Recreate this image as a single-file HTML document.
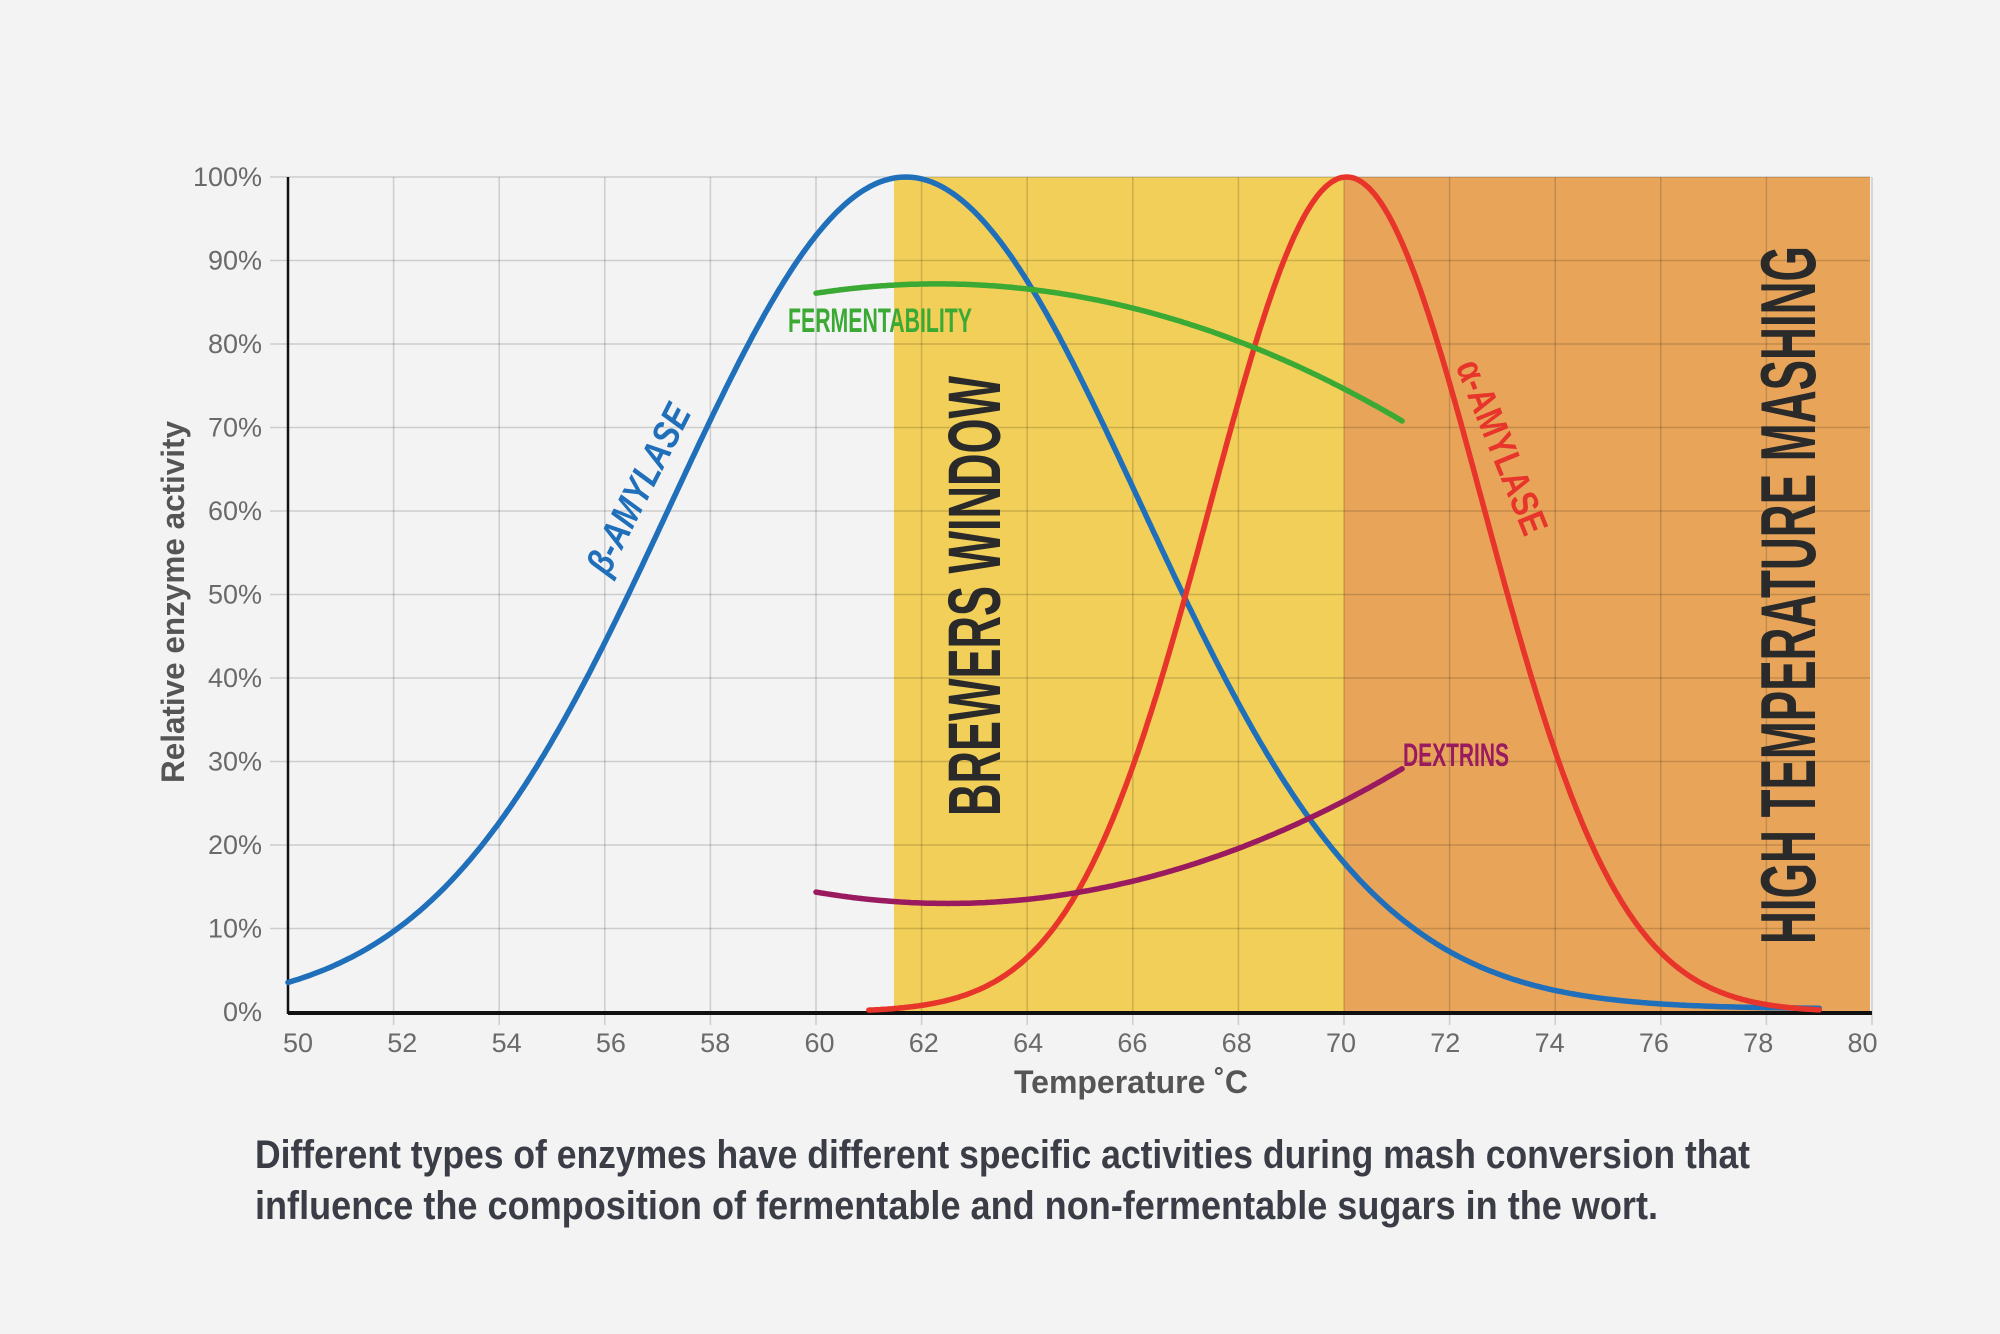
<!DOCTYPE html>
<html><head><meta charset="utf-8"><style>
html,body{margin:0;padding:0;background:#f3f3f3;}
svg{display:block;}
text{font-family:"Liberation Sans Narrow","Liberation Sans",sans-serif;}
</style></head><body>
<svg id="s" width="2000" height="1334" viewBox="0 0 2000 1334" xmlns="http://www.w3.org/2000/svg">
<rect width="2000" height="1334" fill="#f3f3f3"/>
<rect x="894" y="177" width="450" height="835" fill="#f2cf58"/>
<rect x="1344" y="177" width="526" height="835" fill="#e8a55a"/>
<g id="grid" stroke="rgba(0,0,0,0.16)" stroke-width="1.5"></g>
<g id="ylab" fill="#6a6a6a" font-size="27" text-anchor="end"></g>
<g id="xlab" fill="#6a6a6a" font-size="27" text-anchor="middle"></g>
<line x1="288" y1="177" x2="288" y2="1014" stroke="#111" stroke-width="2.5"/>
<line x1="288" y1="1013" x2="1872" y2="1013" stroke="#111" stroke-width="4"/>
<path id="blue" fill="none" stroke="#1f6fba" stroke-width="5.5" stroke-linecap="round"/>
<path id="red" fill="none" stroke="#e8352b" stroke-width="5.5" stroke-linecap="round"/>
<path id="green" fill="none" stroke="#3aaa35" stroke-width="5.5" stroke-linecap="round"/>
<path id="purple" fill="none" stroke="#9a1a5f" stroke-width="5.5" stroke-linecap="round"/>
<text x="880" y="332" fill="#3aaa35" font-size="34" font-weight="bold" text-anchor="middle" textLength="184" lengthAdjust="spacingAndGlyphs">FERMENTABILITY</text>
<text x="1456" y="766" fill="#9a1a5f" font-size="32" font-weight="bold" text-anchor="middle" textLength="106" lengthAdjust="spacingAndGlyphs">DEXTRINS</text>
<text transform="translate(1000,596) rotate(-90)" fill="#2a2a2a" font-size="74" font-weight="bold" text-anchor="middle" textLength="440" lengthAdjust="spacingAndGlyphs">BREWERS WINDOW</text>
<text transform="translate(1815,595) rotate(-90)" fill="#2a2a2a" font-size="78" font-weight="bold" text-anchor="middle" textLength="698" lengthAdjust="spacingAndGlyphs">HIGH TEMPERATURE MASHING</text>
<text transform="translate(650,495) rotate(-63)" fill="#1f6fba" font-size="38" font-weight="bold" font-style="italic" text-anchor="middle" textLength="185" lengthAdjust="spacingAndGlyphs">β-AMYLASE</text>
<text transform="translate(1490,452) rotate(68)" fill="#e8352b" font-size="38" font-weight="bold" text-anchor="middle" textLength="185" lengthAdjust="spacingAndGlyphs">α-AMYLASE</text>
<text x="1131" y="1093" fill="#555" font-size="32" font-weight="bold" text-anchor="middle" textLength="234" lengthAdjust="spacingAndGlyphs">Temperature ˚C</text>
<text transform="translate(184,602) rotate(-90)" fill="#555" font-size="32" font-weight="bold" text-anchor="middle" textLength="362" lengthAdjust="spacingAndGlyphs">Relative enzyme activity</text>
<text x="255" y="1168" fill="#3a3d45" font-size="40" font-weight="bold" textLength="1495" lengthAdjust="spacingAndGlyphs">Different types of enzymes have different specific activities during mash conversion that</text>
<text x="255" y="1219" fill="#3a3d45" font-size="40" font-weight="bold" textLength="1403" lengthAdjust="spacingAndGlyphs">influence the composition of fermentable and non-fermentable sugars in the wort.</text>
</svg>
<script>
(function(){
var NS="http://www.w3.org/2000/svg";
function X(T){return 288+52.8*(T-50);}
function Y(v){return 1012-8.35*v;}
var g=document.getElementById('grid'),yl=document.getElementById('ylab'),xl=document.getElementById('xlab');
for(var i=0;i<=10;i++){
 var y=Y(i*10);
 if(i>0){var l=document.createElementNS(NS,'line');l.setAttribute('x1',270);l.setAttribute('x2',1870);l.setAttribute('y1',y);l.setAttribute('y2',y);g.appendChild(l);}
 var t=document.createElementNS(NS,'text');t.setAttribute('x',262);t.setAttribute('y',y+9);t.textContent=(i*10)+'%';yl.appendChild(t);
}
for(var T=50;T<=80;T+=2){
 var x=X(T);
 if(T>50){var l=document.createElementNS(NS,'line');l.setAttribute('x1',x);l.setAttribute('x2',x);l.setAttribute('y1',177);l.setAttribute('y2',1025);g.appendChild(l);}
 var t=document.createElementNS(NS,'text');t.setAttribute('x',298+104.3*(T-50)/2);t.setAttribute('y',1052);t.textContent=T;xl.appendChild(t);
}
function path(id,f,a,b){var d='';for(var T=a;T<=b+1e-9;T+=0.05){d+=(d?'L':'M')+X(T).toFixed(1)+','+Y(f(T)).toFixed(1);}document.getElementById(id).setAttribute('d',d);}
path('blue',function(T){return 99.6*Math.exp(-Math.pow(T-61.7,2)/39.6)+0.4;},50,79);
path('red',function(T){return 100*Math.exp(-Math.pow(T-70.05,2)/13.4);},61,79);
path('green',function(T){return 87.2-0.212*Math.pow(T-62.3,2);},60,71.1);
path('purple',function(T){return 13+0.218*Math.pow(T-62.5,2);},60,71.1);
})();
</script>
</body></html>
